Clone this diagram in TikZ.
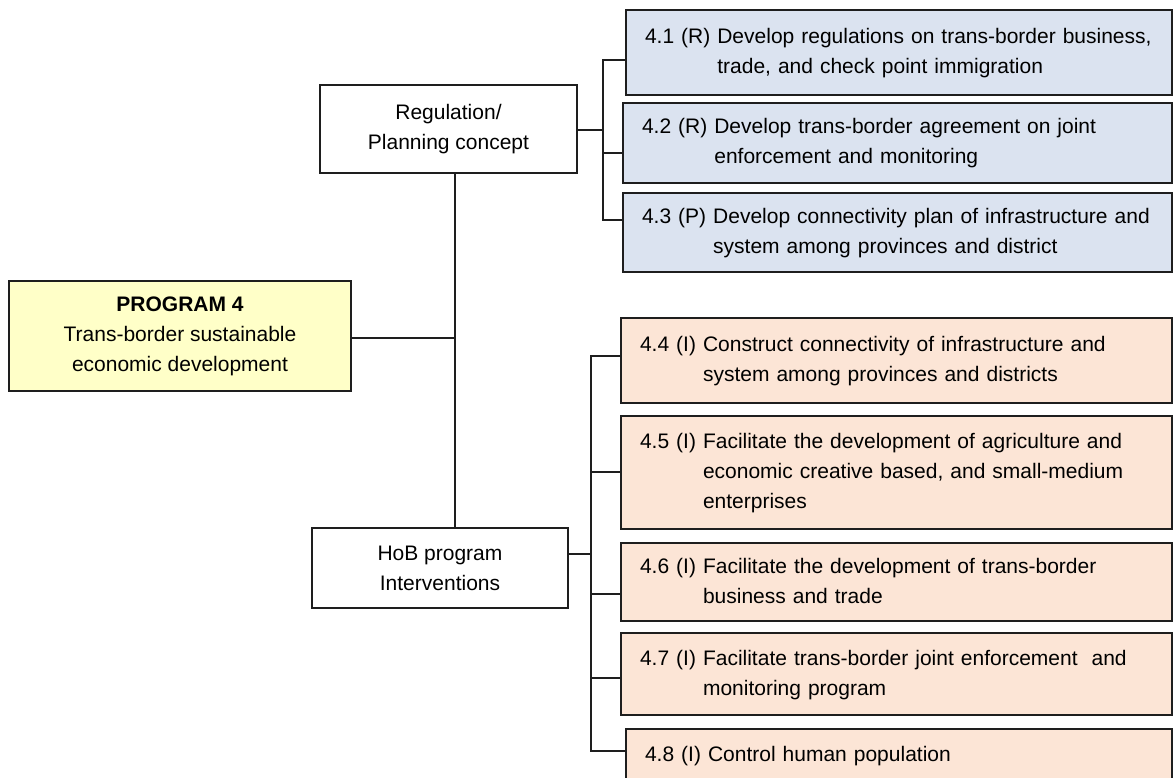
\documentclass[tikz,border=0pt]{standalone}
\usepackage{fontspec}
\setmainfont{Liberation Sans}
\definecolor{bluefill}{RGB}{219,227,240}
\definecolor{peachfill}{RGB}{252,229,214}
\definecolor{yellowfill}{RGB}{255,255,200}
\definecolor{linecol}{RGB}{30,30,30}
\newcommand\ib[2]{#1\ \begin{tabular}[t]{@{}l@{}}#2\end{tabular}}
\begin{document}
\begin{tikzpicture}[x=1pt,y=-1pt,
  every node/.style={font=\fontsize{21}{30}\selectfont, text=black},
  base/.style={draw=linecol, line width=1.4pt, inner ysep=0pt, inner xsep=19pt},
  item/.style={base, align=left},
  blueitem/.style={item, fill=bluefill},
  peachitem/.style={item, fill=peachfill},
  centerbox/.style={base, align=center, inner xsep=4pt},
  conn/.style={line width=1.6pt, draw=linecol}]
\clip (0,0) rectangle (1173,778);
\fill[white] (0,0) rectangle (1173,778);

\node[centerbox, fill=yellowfill, minimum width=342pt, minimum height=110pt] (prog) at (180,336)
  {\textbf{PROGRAM 4}\\Trans-border sustainable\\economic development};
\node[centerbox, fill=white, minimum width=257pt, minimum height=88pt] (reg) at (448.5,129)
  {Regulation/\\Planning concept};
\node[centerbox, fill=white, minimum width=256pt, minimum height=80pt] (hob) at (440,568)
  {HoB program\\Interventions};

\node[blueitem, minimum width=546pt, minimum height=85pt, text width=508pt] (b1) at (899,52.5)
  {\ib{4.1 (R)}{Develop regulations on trans-border business,\\trade, and check point immigration}};
\node[blueitem, minimum width=549pt, minimum height=80pt, text width=511pt] (b2) at (897.5,143)
  {\ib{4.2 (R)}{Develop trans-border agreement on joint\\enforcement and monitoring}};
\node[blueitem, minimum width=549pt, minimum height=79pt, text width=511pt] (b3) at (897.5,232.5)
  {\ib{4.3 (P)}{Develop connectivity plan of infrastructure and\\system among provinces and district}};

\node[peachitem, minimum width=551pt, minimum height=85pt, text width=513pt] (b4) at (896.5,360.5)
  {\ib{4.4 (I)}{Construct connectivity of infrastructure and\\system among provinces and districts}};
\node[peachitem, minimum width=551pt, minimum height=113pt, text width=513pt] (b5) at (896.5,472.5)
  {\ib{4.5 (I)}{Facilitate the development of agriculture and\\economic creative based, and small-medium\\enterprises}};
\node[peachitem, minimum width=551pt, minimum height=78pt, text width=513pt] (b6) at (896.5,582)
  {\ib{4.6 (I)}{Facilitate the development of trans-border\\business and trade}};
\node[peachitem, minimum width=551pt, minimum height=82pt, text width=513pt] (b7) at (896.5,674)
  {\ib{4.7 (I)}{Facilitate trans-border joint enforcement\ \ and\\monitoring program}};
\node[peachitem, minimum width=546pt, minimum height=52pt, text width=508pt] (b8) at (899,755)
  {\ib{4.8 (I)}{Control human population}};

% trunk
\coordinate (t) at (455,338);
\draw[conn] (prog.east |- t) -- (t);
\draw[conn] (reg.south -| t) -- (hob.north -| t);

% upper bracket
\coordinate (ub) at (603,130);
\coordinate (u1) at (603,60);
\coordinate (u2) at (603,153);
\coordinate (u3) at (603,220);
\draw[conn] (reg.east |- ub) -- (ub);
\draw[conn] (b1.west |- u1) -- (u1) -- (u3) -- (b3.west |- u3);
\draw[conn] (u2) -- (b2.west |- u2);

% lower bracket
\coordinate (lh) at (591,554);
\coordinate (l4) at (591,356);
\coordinate (l5) at (591,472);
\coordinate (l6) at (591,594);
\coordinate (l7) at (591,678);
\coordinate (l8) at (591,751);
\draw[conn] (hob.east |- lh) -- (lh);
\draw[conn] (b4.west |- l4) -- (l4) -- (l8) -- (b8.west |- l8);
\draw[conn] (l5) -- (b5.west |- l5);
\draw[conn] (l6) -- (b6.west |- l6);
\draw[conn] (l7) -- (b7.west |- l7);
\end{tikzpicture}
\end{document}
